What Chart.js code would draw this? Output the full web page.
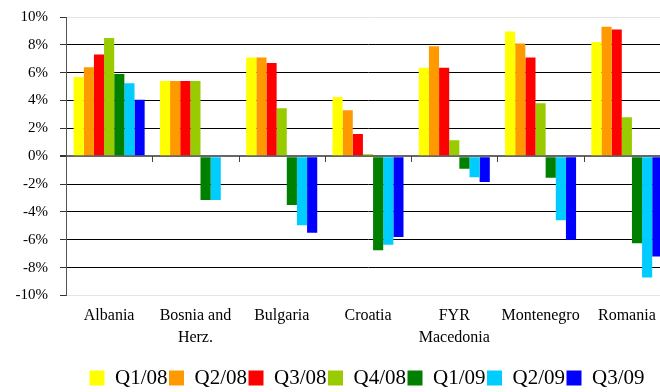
<!DOCTYPE html>
<html>
<head>
<meta charset="utf-8">
<script src="https://cdn.jsdelivr.net/npm/chart.js@4"></script>
<style>
  html, body { margin: 0; padding: 0; background: #fff; overflow: hidden; }
  #wrap { width: 672px; height: 392px; }
</style>
</head>
<body>
<div id="wrap"><canvas id="growthChart" width="672" height="392"></canvas></div>
<script>
const countries = ["Albania", ["Bosnia and", "Herz."], "Bulgaria", "Croatia", ["FYR", "Macedonia"], "Montenegro", "Romania"];
const quarters = ["Q1/08", "Q2/08", "Q3/08", "Q4/08", "Q1/09", "Q2/09", "Q3/09"];
const quarterColors = ["#FFFF00", "#FF9900", "#FF0000", "#99CC00", "#008000", "#00CCFF", "#0000FF"];

// real GDP growth, % y/y, one array per quarter
const q1_08 = [5.7, 5.4, 7.1, 4.25, 6.35, 8.95, 8.2];
const q2_08 = [6.4, 5.4, 7.1, 3.3, 7.9, 8.1, 9.3];
const q3_08 = [7.3, 5.4, 6.7, 1.6, 6.35, 7.1, 9.1];
const q4_08 = [8.5, 5.4, 3.45, 0.15, 1.15, 3.8, 2.8];
const q1_09 = [5.9, -3.15, -3.5, -6.75, -0.9, -1.55, -6.25];
const q2_09 = [5.25, -3.15, -4.95, -6.35, -1.5, -4.6, -8.7];
const q3_09 = [4.05, null, -5.5, -5.8, -1.85, -6.0, -7.2];

const yMin = -10;
const yMax = 10;
const yStep = 2;

const series = [q1_08, q2_08, q3_08, q4_08, q1_09, q2_09, q3_09];
const serif = "'Liberation Serif', 'Times New Roman', serif";

// small tick marks on the zero line between country groups
const categoryTicks = {
  id: "categoryTicks",
  afterDatasetsDraw(chart) {
    const { ctx, scales: { x, y } } = chart;
    const y0 = Math.round(y.getPixelForValue(0));
    ctx.save();
    ctx.strokeStyle = "#444";
    ctx.lineWidth = 1;
    for (let i = 1; i < countries.length; i++) {
      const px = Math.round((x.getPixelForValue(i - 1) + x.getPixelForValue(i)) / 2) + 0.5;
      ctx.beginPath();
      ctx.moveTo(px, y0);
      ctx.lineTo(px, y0 + 6);
      ctx.stroke();
    }
    ctx.restore();
  }
};

// push the legend row to the right, under the plot
const legendPlacement = {
  id: "legendPlacement",
  afterLayout(chart) {
    const lg = chart.legend;
    lg.left = 88;
    lg.right = chart.width + 60;
    lg.top = 366;
  }
};

new Chart(document.getElementById("growthChart"), {
  type: "bar",
  data: {
    labels: countries,
    datasets: quarters.map((q, i) => ({
      label: q,
      data: series[i],
      backgroundColor: quarterColors[i],
      borderWidth: 0,
      categoryPercentage: 0.823,
      barPercentage: 1.0
    }))
  },
  plugins: [categoryTicks, legendPlacement],
  options: {
    responsive: false,
    animation: false,
    devicePixelRatio: 1,
    layout: { padding: { top: 17, right: 2, left: 0, bottom: 4 } },
    plugins: {
      tooltip: { enabled: false },
      legend: {
        position: "bottom",
        align: "start",
        labels: {
          boxWidth: 15,
          boxHeight: 15,
          padding: 1.5,
          color: "#000",
          font: { family: serif, size: 21 }
        }
      }
    },
    scales: {
      x: {
        grid: { display: false, drawTicks: false },
        border: { display: false },
        ticks: {
          color: "#000",
          padding: 9,
          maxRotation: 0,
          autoSkip: false,
          font: { family: serif, size: 16, lineHeight: 1.4 }
        },
        afterFit: s => { s.height = 60; }
      },
      y: {
        min: yMin,
        max: yMax,
        border: { color: "#555", width: 1 },
        grid: {
          color: c => (Math.abs(c.tick.value) === yMax ? "#e4e4e4" : (c.tick.value === 0 ? "#666" : "#000")),
          lineWidth: c => (c.tick.value === 0 ? 2 : 1),
          tickColor: "#333",
          tickLength: 6
        },
        ticks: {
          stepSize: yStep,
          color: "#000",
          padding: 12,
          font: { family: serif, size: 15 },
          callback: v => v + "%"
        },
        afterFit: s => {
          s.width = 66;
          s.paddingTop = 0;
          s.paddingBottom = 0;
        }
      }
    }
  }
});
</script>
</body>
</html>
